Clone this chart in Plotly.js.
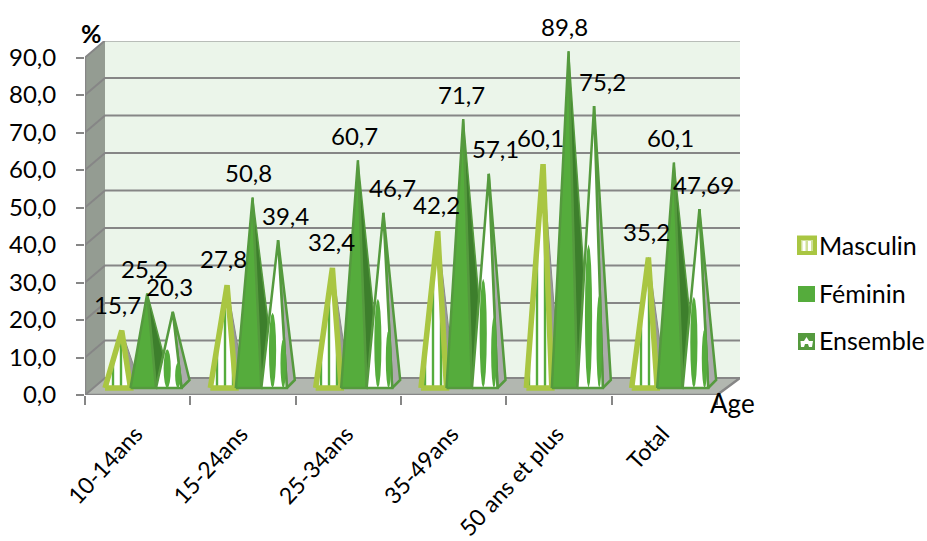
<!DOCTYPE html>
<html><head><meta charset="utf-8">
<script src="https://cdn.plot.ly/plotly-3.0.1.min.js"></script>
<style>html,body{margin:0;padding:0;background:#fff}#c{width:927px;height:541px}</style></head>
<body><div id="c"></div>
<script>
const categories = ['10-14ans','15-24ans','25-34ans','35-49ans','50 ans et plus','Total'];
const seriesNames = ['Masculin','Féminin','Ensemble'];
const masculin = [15.7,27.8,32.4,42.2,60.1,35.2];
const feminin  = [25.2,50.8,60.7,71.7,89.8,60.1];
const ensemble = [20.3,39.4,46.7,57.1,75.2,47.69];
const yTicks = [0,10,20,30,40,50,60,70,80,90];

const labelDxM = [-4,-4,-1,-1,-3,-2];
const labelDxF = [-3,-4,-3,-2,-4,-3];
const labelDxE = [-3,7,9,7,8,4];

const FONT = 'Lato, "Open Sans", sans-serif';
const pxX = 105.33, pxY = 3.75;
const depthX = 20/pxX, depthY = 17/pxY;
const xMax = 655/pxX, yMax = 354/pxY;
const GRID = '#868686', OLIVE = '#A9C642', GREEN = '#55AC3C', EDGE = '#559A3E';

const barW = 25.5/pxX, barStart = 20/pxX;
const baseY = 7/pxY, backY = 8/pxY, labelY = 9/pxY;
const apexX = 4/pxX, apexM = 5.5/pxY, apexO = 7/pxY;

function polys(vals, k, make){
  const xs=[], ys=[];
  vals.forEach((v,i)=>{
    const l=i+barStart+k*barW, r=l+barW, c=(l+r)/2;
    make(v,l,r,c).forEach(p=>{xs.push(p[0]);ys.push(p[1]);});
    xs.push(null);ys.push(null);
  });
  return {x:xs,y:ys};
}
const front=(vals,k,ay)=>polys(vals,k,(v,l,r,c)=>[[l,baseY],[r,baseY],[c+apexX,v+ay],[l,baseY]]);
const side=(vals,k,ay,bx)=>polys(vals,k,(v,l,r,c)=>[[r,baseY],[r+bx/pxX,baseY+backY],[c+apexX,v+ay],[r,baseY]]);
function poly(p,fill,line,w,extra){
  return Object.assign({type:'scatter',mode:w?'lines':'none',x:p.x,y:p.y,fill:'toself',fillcolor:fill,
    line:{color:line||fill,width:w||0},hoverinfo:'skip',showlegend:false},extra||{});
}
function spindles(vals,k,pos,frac,halfW){
  return polys(vals,k,(v,l,r)=>{
    const cx=l+(r-l)*pos, h=v*frac, pts=[];
    for(let a=0;a<=16;a++){
      const t=a/16*2*Math.PI;
      pts.push([cx+Math.sin(t)*halfW/pxX, baseY+h/2+Math.cos(t)*h/2]);
    }
    return pts;
  });
}

const wallX=[depthX,xMax,xMax,depthX,depthX], wallY=[depthY,depthY,yMax,yMax,depthY];
const sideX=[0,depthX,depthX,0,0], sideY=[0,depthY,yMax,90,0];
const floorX=[0,depthX,xMax,6,0], floorY=[0,depthY,depthY,0,0];

const gridX=[],gridY=[];
yTicks.forEach(t=>{
  gridX.push(0,depthX,xMax,null);
  gridY.push(t,t+depthY,t+depthY,null);
});
const gridLine={type:'scatter',mode:'lines',x:gridX,y:gridY,line:{color:GRID,width:2},hoverinfo:'skip',showlegend:false,cliponaxis:false};
const axisLines={type:'scatter',mode:'lines',x:[0,0,null,0,6,xMax],y:[90,0,null,0,0,depthY],
  line:{color:GRID,width:2.5},hoverinfo:'skip',showlegend:false,cliponaxis:false};

const stripes={shape:'|',size:8,solidity:0.3,fgcolor:GREEN,bgcolor:'#ffffff',fillmode:'replace'};
const traces=[
  poly({x:wallX,y:wallY},'#EBF5EA'),
  poly({x:sideX,y:sideY},'#949C92'),
  poly({x:floorX,y:floorY},'#B2B7B0'),
  gridLine,axisLines,
  poly(side(masculin,0,apexM,8),'#9A9A9A','#8A8A8A',1,{name:seriesNames[0]}),
  poly(front(masculin,0,apexM),'#ffffff',OLIVE,5.5,{fillpattern:stripes,name:seriesNames[0]}),
  poly(side(feminin,1,apexO,14),'#3D7F2C',EDGE,1.5,{name:seriesNames[1]}),
  poly(front(feminin,1,apexO),GREEN,EDGE,2.5,{name:seriesNames[1]}),
  poly(side(ensemble,2,apexO,8),'#ABABAB',EDGE,2.5,{name:seriesNames[2]}),
  poly(front(ensemble,2,apexO),'#ffffff',EDGE,2.5,{name:seriesNames[2]}),
  poly(spindles(ensemble,2,0.44,0.51,3.6),GREEN,null,0,{name:seriesNames[2]}),
  poly(spindles(ensemble,2,0.86,0.33,2.8),GREEN,null,0,{name:seriesNames[2]})
];

const fmt=v=>String(v).replace('.',',');
const ann=[];
function addLabels(vals,k,dx){
  vals.forEach((v,i)=>{
    const c=i+barStart+k*barW+barW/2+apexX;
    ann.push({x:c,y:v+labelY,text:fmt(v),showarrow:false,xanchor:'center',yanchor:'middle',xshift:dx[i],yshift:23,
      font:{family:FONT,size:24,color:'#000'}});
  });
}
addLabels(masculin,0,labelDxM);addLabels(feminin,1,labelDxF);addLabels(ensemble,2,labelDxE);

const pX=px=>(px-85)/655, pY=py=>(395-py)/354;
ann.push({xref:'paper',yref:'paper',x:pX(91),y:pY(33),text:'<b>%</b>',showarrow:false,xanchor:'center',yanchor:'middle',font:{family:FONT,size:25,color:'#000'}});
ann.push({xref:'paper',yref:'paper',x:pX(732),y:pY(403),text:'Age',showarrow:false,xanchor:'center',yanchor:'middle',font:{family:FONT,size:26,color:'#000'}});

const legendRows=[245,293,340];
seriesNames.forEach((n,i)=>ann.push({xref:'paper',yref:'paper',x:pX(817),y:pY(legendRows[i]),text:n,showarrow:false,
  xanchor:'left',yanchor:'middle',font:{family:FONT,size:25,color:'#000'}}));

const box=(x0,y0,x1,y1,c)=>({type:'rect',xref:'paper',yref:'paper',x0:pX(x0),x1:pX(x1),y0:pY(y0),y1:pY(y1),fillcolor:c,line:{width:0},layer:'above'});
const house=[[806.5,337],[809,341],[813,341],[812,347],[809,347],[808,344],[805,344],[804,347],[801,347],[800.5,341],[804,341]];
const shapes=[
  box(797,235.5,817,255,OLIVE),
  box(801,240,813,251,'#CFE09A'),
  box(802.5,241,805.5,251,'#ffffff'),
  box(808,241,811,251,'#ffffff'),
  box(798,286,815,302,GREEN),
  box(798,333,815,350,EDGE),
  {type:'path',xref:'paper',yref:'paper',layer:'above',fillcolor:'#ffffff',line:{width:0},
   path:'M'+house.map(p=>pX(p[0])+','+pY(p[1])).join('L')+'Z'}
];

const layout={
  width:927,height:541,paper_bgcolor:'#fff',plot_bgcolor:'#fff',
  margin:{l:85,r:187,t:41,b:146,autoexpand:false},
  separators:', ',
  font:{family:FONT,size:24,color:'#000'},
  xaxis:{range:[0,xMax],tickmode:'array',tickvals:categories.map((c,i)=>i+0.5),ticktext:categories,ticks:'',
    tickangle:-47,showgrid:false,zeroline:false,showline:false,ticklabelstandoff:20,ticklabelshift:-2,
    minor:{tickmode:'array',tickvals:[0,1,2,3,4,5,6],ticks:'outside',ticklen:9,tickwidth:2,tickcolor:GRID,showgrid:false},
    tickfont:{family:FONT,size:23,color:'#000'}},
  yaxis:{range:[0,yMax],tickmode:'array',tickvals:yTicks,tickformat:'.1f',ticks:'outside',ticklen:8,tickwidth:2,tickcolor:GRID,
    ticklabelstandoff:15,showgrid:false,zeroline:false,showline:false,tickfont:{family:FONT,size:24,color:'#000'}},
  annotations:ann,shapes:shapes,showlegend:false
};
Plotly.newPlot('c',traces,layout,{staticPlot:true,displayModeBar:false});
</script></body></html>
